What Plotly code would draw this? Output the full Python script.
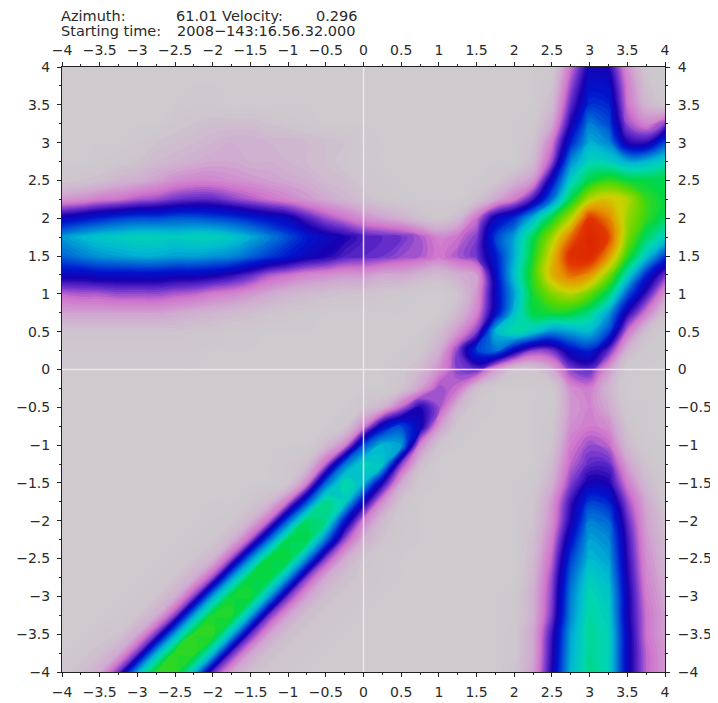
import plotly.graph_objects as go

x_grid = [-4 + 0.25 * i for i in range(33)]
y_grid = [4 - 0.25 * i for i in range(33)]

def row(*segments):
    out = [0] * 33
    for start, vals in segments:
        out[start:start + len(vals)] = vals
    return out

z_rows = [
 row((26,[1,14,25,24,11,2,0])),
 row((26,[3,17,28,27,13,4,0])),
 row((7,[1,1]), (26,[5,20,31,30,14,6,2])),
 row((6,[2,3,4,4,4,3,2,1]), (25,[1,8,24,37,33,17,12,18])),
 row((4,[1,3,4,5,6,7,7,6,6,5,4,3,1]), (25,[3,13,30,41,38,24,23,33])),
 row((2,[1,2,3,5,6,7,8,8,7,7,6,5,4,2,1]), (25,[5,17,38,46,45,41,42,46])),
 row((0,[2,3,4,6,7,9,11,12,12,11,10,9,8,7,5,4,2,1]), (23,[2,6,10,27,45,54,58,55,54,54])),
 [10,11,13,14,16,17,19,20,20,18,16,14,12,10,8,6,4,2,1,0,0,0,3,8,13,22,36,54,68,72,68,58,54],
 [26,28,30,32,33,33,34,34,33,32,30,28,26,21,17,14,11,9,7,4,2,5,14,26,31,42,55,68,88,80,66,58,52],
 [39,42,44,45,46,46,45,46,46,44,41,37,33,29,26,24,21,20,19,16,12,14,18,32,40,53,66,82,94,86,64,52,45],
 [35,37,39,40,41,41,40,40,39,38,35,32,29,26,24,21,20,19,17,16,13,16,19,29,41,56,72,90,92,78,58,44,32],
 [26,26,27,27,27,27,26,26,25,23,20,16,14,12,11,10,10,8,8,6,5,7,9,27,43,58,74,82,78,64,46,30,19],
 [15,16,16,17,17,17,16,15,13,12,10,8,6,5,4,3,3,2,1,0,0,3,10,26,40,56,64,68,62,52,34,22,10],
 [9,9,9,9,9,9,8,7,6,5,4,3,2,1,0,0,0,0,0,0,0,5,12,27,43,54,56,55,50,40,24,13,4],
 row((0,[3,3,3,3,3,3,3,2,2,1,1]), (20,[4,10,18,42,48,44,38,40,42,33,14,4,0])),
 row((0,[1,1,1,1,1,1,1,1]), (19,[2,7,18,32,36,26,18,19,27,30,20,6,1,0])),
 row((18,[2,5,11,18,20,10,3,3,8,18,20,10,1])),
 row((18,[3,9,17,14,4]), (26,[1,11,13,6])),
 row((16,[3,6,15,24,17,6,1]), (26,[1,10,12,8,1])),
 row((15,[2,12,27,33,26,10,2]), (26,[2,11,13,11,3])),
 row((14,[5,12,33,42,40,12,3]), (26,[3,13,17,15,5,1])),
 row((12,[1,4,15,36,46,44,18,5]), (26,[5,15,20,20,9,3])),
 row((12,[2,12,35,48,42,24,8,1]), (25,[1,7,18,25,24,13,5,1])),
 row((10,[2,5,14,33,50,45,26,11,3]), (25,[2,10,22,32,30,17,8,2])),
 row((8,[1,2,6,15,35,52,50,29,13,5,1]), (25,[3,11,24,37,35,20,9,4])),
 row((7,[1,2,6,16,36,53,54,36,17,7,3,1,0]), (25,[4,13,28,40,38,22,10,5])),
 row((6,[1,3,6,17,38,54,55,38,18,8,3,1,0]), (25,[5,15,32,42,40,23,11,6])),
 row((5,[1,3,7,17,39,54,55,39,18,8,4,2,1]), (25,[6,17,35,45,42,24,12,7])),
 row((4,[1,3,7,18,40,55,56,40,19,9,4,2,1]), (24,[1,7,18,37,47,44,25,13,8])),
 row((3,[1,3,7,18,40,56,57,41,19,9,4,2,1]), (24,[1,7,19,38,48,45,25,14,9])),
 row((2,[2,3,8,19,40,57,58,42,20,9,4,2,1]), (24,[2,8,22,40,49,46,26,14,9])),
 row((1,[2,4,8,19,41,57,58,43,20,9,4,2,1]), (24,[2,8,23,41,49,46,26,15,10])),
 row((0,[2,4,8,19,41,57,58,43,20,9,4,2,1]), (24,[3,9,24,42,50,46,26,15,10])),
]
assert len(z_rows) == 33 and all(len(r) == 33 for r in z_rows)

ticks = [-4 + 0.5 * i for i in range(17)]
minor_ticks = [-4 + 0.25 * i for i in range(33)]
tick_labels = ["\u22124","\u22123.5","\u22123","\u22122.5","\u22122","\u22121.5","\u22121","\u22120.5","0","0.5","1","1.5","2","2.5","3","3.5","4"]
colorscale = [
 [0.00, "rgb(206,202,206)"], [0.03, "rgb(206,196,206)"], [0.08, "rgb(208,170,208)"],
 [0.14, "rgb(208,115,205)"], [0.19, "rgb(110,50,205)"], [0.24, "rgb(25,0,175)"],
 [0.29, "rgb(0,20,205)"], [0.35, "rgb(0,100,215)"], [0.42, "rgb(0,185,210)"],
 [0.47, "rgb(0,215,175)"], [0.54, "rgb(0,215,70)"], [0.61, "rgb(90,215,0)"],
 [0.70, "rgb(205,210,0)"], [0.78, "rgb(230,150,0)"], [0.87, "rgb(225,55,0)"],
 [1.00, "rgb(215,20,0)"],
]
FONT = dict(family="DejaVu Sans", size=14, color="#2a2a2a")
HEAD = dict(family="DejaVu Sans", size=14.5, color="#2a2a2a")

fig = go.Figure()
fig.add_trace(go.Contour(x=x_grid, y=y_grid, z=z_rows, zmin=0, zmax=100, colorscale=colorscale,
                         showscale=False, hoverinfo="skip", autocontour=False,
                         contours=dict(coloring="fill", start=0, end=100, size=1, showlines=False),
                         line=dict(width=0, smoothing=1.3)))
fig.add_trace(go.Scatter(x=x_grid, y=y_grid, xaxis="x2", yaxis="y2", mode="lines",
                         line=dict(width=0), hoverinfo="skip", showlegend=False))

axis_common = dict(range=[-4, 4], tickvals=ticks, ticktext=tick_labels, ticks="outside",
                   ticklen=4, tickwidth=1, tickcolor="#222222", showgrid=False, zeroline=False,
                   showline=True, linecolor="#222222", linewidth=1, tickfont=FONT, tickangle=0,
                   minor=dict(tickvals=minor_ticks, ticks="outside", ticklen=2,
                              tickcolor="#222222", showgrid=False))
fig.update_layout(
    width=710, height=695, showlegend=False, paper_bgcolor="white", plot_bgcolor="rgb(206,202,206)",
    margin=dict(l=54, r=53, t=59, b=31, autoexpand=False),
    xaxis=dict(**axis_common, side="bottom", anchor="y", ticklabelstandoff=3),
    yaxis=dict(**axis_common, side="left", anchor="x", ticklabelstandoff=4),
    xaxis2=dict(**axis_common, side="top", overlaying="x", anchor="y", ticklabelstandoff=1),
    yaxis2=dict(**axis_common, side="right", overlaying="y", anchor="x", ticklabelstandoff=5),
)
fig.add_shape(type="line", x0=0, x1=0, y0=-4, y1=4, xref="x", yref="y",
              line=dict(color="rgba(238,234,238,0.9)", width=1.5), layer="above")
fig.add_shape(type="line", x0=-4, x1=4, y0=0, y1=0, xref="x", yref="y",
              line=dict(color="rgba(238,234,238,0.9)", width=1.5), layer="above")

header = [("Azimuth:", 59, 16), ("61.01 Velocity:", 174, 16), ("0.296", 314, 16),
          ("Starting time:", 59, 31), ("2008\u2212143:16.56.32.000", 175, 31)]
for text, px, py in header:
    fig.add_annotation(text=text, x=(px - 62) / 603, y=1 + (67 - py) / 605, xref="paper", yref="paper",
                       xanchor="left", yanchor="middle", showarrow=False, font=HEAD)
fig.write_html("out.html")
